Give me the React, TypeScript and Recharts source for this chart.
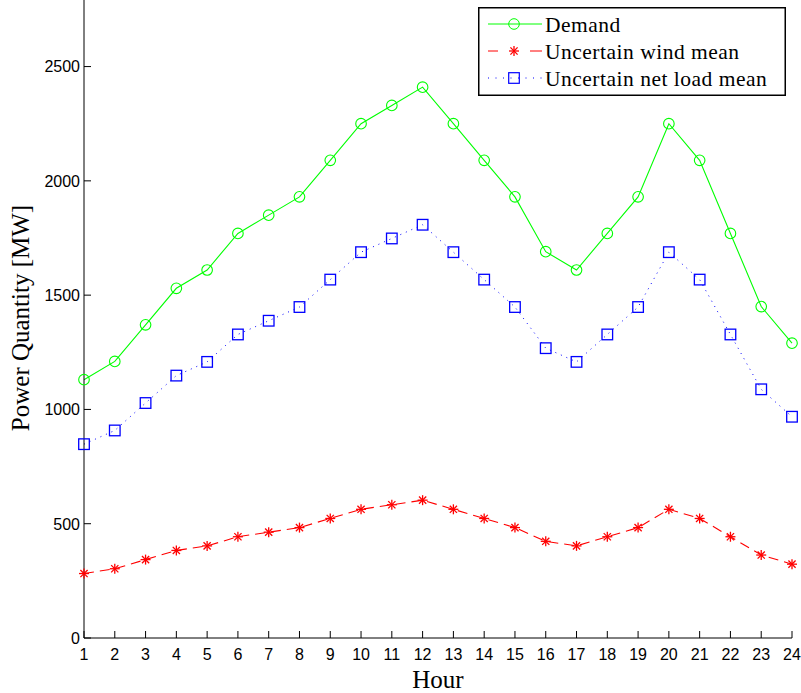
import React from "react";
import { LineChart, Line, XAxis, YAxis, Legend } from "recharts";

// hours 1..24 and the three series (MW)
const hours = [1, 2, 3, 4, 5, 6, 7, 8, 9, 10, 11, 12, 13, 14, 15, 16, 17, 18, 19, 20, 21, 22, 23, 24];
const demand = [1130, 1210, 1370, 1530, 1610, 1770, 1850, 1930, 2090, 2250, 2330, 2410, 2250, 2090, 1930, 1690, 1610, 1770, 1930, 2250, 2090, 1770, 1450, 1290];
const windMean = [282, 303, 343, 383, 403, 443, 463, 483, 523, 563, 583, 603, 563, 523, 483, 423, 403, 443, 483, 563, 523, 443, 363, 323];
const netLoadMean = [848, 908, 1028, 1148, 1208, 1328, 1388, 1448, 1568, 1688, 1748, 1808, 1688, 1568, 1448, 1268, 1208, 1328, 1448, 1688, 1568, 1328, 1088, 968];
const yTicks = [0, 500, 1000, 1500, 2000, 2500];

const GREEN = "#00ff00";
const RED = "#ff0000";
const BLUE = "#0000ff";
const TICK_FONT = "'Liberation Sans', Arial, sans-serif";
const SERIF = "'Liberation Serif', 'Times New Roman', serif";
const TICK_LEN = 7;

const data = hours.map((h, i) => ({
  hour: h,
  demand: demand[i],
  wind: windMean[i],
  net: netLoadMean[i],
}));

// ---- markers ----
const circleDot = (p: any) => (
  <circle key={`c${p.index}`} cx={p.cx} cy={p.cy} r={5.3} fill="none" stroke={GREEN} strokeWidth={1.1} />
);

const squareDot = (p: any) => (
  <rect key={`s${p.index}`} x={p.cx - 5.3} y={p.cy - 5.3} width={10.6} height={10.6} fill="none" stroke={BLUE} strokeWidth={1.3} />
);

function Star({ cx, cy, color }: { cx: number; cy: number; color: string }) {
  const r = 5;
  const d = 3.6;
  return (
    <g stroke={color} strokeWidth={1.3}>
      <line x1={cx - r} y1={cy} x2={cx + r} y2={cy} />
      <line x1={cx} y1={cy - r} x2={cx} y2={cy + r} />
      <line x1={cx - d} y1={cy - d} x2={cx + d} y2={cy + d} />
      <line x1={cx - d} y1={cy + d} x2={cx + d} y2={cy - d} />
    </g>
  );
}
const starDot = (p: any) => <Star key={`w${p.index}`} cx={p.cx} cy={p.cy} color={RED} />;

// ---- ticks (MATLAB style: inward ticks) ----
const YTickLeft = (p: any) => (
  <g>
    <line x1={p.x} y1={p.y} x2={p.x + TICK_LEN} y2={p.y} stroke="#000" />
    <text x={p.x - 4} y={p.y} dy={5.8} textAnchor="end" fontSize={16} fontFamily={TICK_FONT} fill="#000">
      {p.payload.value}
    </text>
  </g>
);
const YTickRight = (p: any) => (
  <line x1={p.x} y1={p.y} x2={p.x - TICK_LEN} y2={p.y} stroke="#000" />
);
const XTickBottom = (p: any) => (
  <g>
    <line x1={p.x} y1={p.y} x2={p.x} y2={p.y - TICK_LEN} stroke="#000" />
    <text x={p.x} y={p.y + 21.5} textAnchor="middle" fontSize={16} fontFamily={TICK_FONT} fill="#000">
      {p.payload.value}
    </text>
  </g>
);
const XTickTop = (p: any) => (
  <line x1={p.x} y1={p.y} x2={p.x} y2={p.y + TICK_LEN} stroke="#000" />
);

const XTitle = (p: any) => {
  const vb = p.viewBox;
  return (
    <text x={vb.x + vb.width / 2} y={vb.y + 50} textAnchor="middle" fontSize={25} fontFamily={SERIF} fill="#000">
      Hour
    </text>
  );
};
const YTitle = (p: any) => {
  const vb = p.viewBox;
  const cy = vb.y + vb.height / 2;
  return (
    <text x={29} y={cy} transform={`rotate(-90 29 ${cy})`} textAnchor="middle" fontSize={25} fontFamily={SERIF} fill="#000">
      Power Quantity [MW]
    </text>
  );
};

// ---- legend box ----
const legendItems = [
  { name: "Demand", color: GREEN, kind: "solid" },
  { name: "Uncertain wind mean", color: RED, kind: "dash" },
  { name: "Uncertain net load mean", color: BLUE, kind: "dot" },
];

function LegendBox() {
  const rowY = [17, 44, 71];
  return (
    <svg width={308} height={89} style={{ display: "block" }}>
      <rect x={0.75} y={0.75} width={306.5} height={87.5} fill="#fff" stroke="#000" strokeWidth={1.5} />
      {legendItems.map((it, i) => {
        const y = rowY[i];
        return (
          <g key={it.name}>
            {it.kind === "solid" && <line x1={10} y1={y} x2={64} y2={y} stroke={it.color} />}
            {it.kind === "dash" && (
              <g stroke={it.color}>
                <line x1={10} y1={y} x2={20} y2={y} />
                <line x1={52} y1={y} x2={64} y2={y} />
              </g>
            )}
            {it.kind === "dot" && <line x1={10} y1={y} x2={64} y2={y} stroke={it.color} strokeDasharray="1 6.5" />}
            {it.kind === "solid" && <circle cx={36} cy={y} r={5.3} fill="none" stroke={it.color} />}
            {it.kind === "dash" && <Star cx={36} cy={y} color={it.color} />}
            {it.kind === "dot" && <rect x={30.7} y={y - 5.3} width={10.6} height={10.6} fill="none" stroke={it.color} strokeWidth={1.2} />}
            <text x={67} y={y + 7.5} fontSize={21.5} letterSpacing={0.5} fontFamily={SERIF} fill="#000">
              {it.name}
            </text>
          </g>
        );
      })}
    </svg>
  );
}

export default function App() {
  return (
    <div style={{ position: "absolute", left: 0, top: -3, width: 801, height: 696, background: "#fff" }}>
      <LineChart width={801} height={696} data={data} margin={{ top: 1, right: 9, bottom: 0, left: 0 }}>
        <XAxis
          dataKey="hour"
          type="number"
          domain={[1, 24]}
          ticks={hours}
          interval={0}
          height={55}
          tickSize={0}
          tickMargin={0}
          tickLine={false}
          axisLine={{ stroke: "#000" }}
          tick={XTickBottom}
          label={{ content: XTitle }}
        />
        <XAxis
          xAxisId="top"
          orientation="top"
          dataKey="hour"
          type="number"
          domain={[1, 24]}
          ticks={hours}
          interval={0}
          height={0}
          tickSize={0}
          tickMargin={0}
          tickLine={false}
          axisLine={{ stroke: "#000" }}
          tick={XTickTop}
        />
        <YAxis
          type="number"
          domain={[0, 2800]}
          ticks={yTicks}
          interval={0}
          width={84}
          tickSize={0}
          tickMargin={0}
          tickLine={false}
          axisLine={{ stroke: "#000" }}
          tick={YTickLeft}
          label={{ content: YTitle }}
        />
        <YAxis
          yAxisId="right"
          orientation="right"
          type="number"
          domain={[0, 2800]}
          ticks={yTicks}
          interval={0}
          width={0}
          tickSize={0}
          tickMargin={0}
          tickLine={false}
          axisLine={{ stroke: "#000" }}
          tick={YTickRight}
        />
        <Line
          dataKey="demand"
          name="Demand"
          type="linear"
          stroke={GREEN}
          strokeWidth={1.1}
          dot={circleDot}
          activeDot={false}
          isAnimationActive={false}
        />
        <Line
          dataKey="wind"
          name="Uncertain wind mean"
          type="linear"
          stroke={RED}
          strokeWidth={1.1}
          strokeDasharray="10 6"
          dot={starDot}
          activeDot={false}
          isAnimationActive={false}
        />
        <Line
          dataKey="net"
          name="Uncertain net load mean"
          type="linear"
          stroke={BLUE}
          strokeWidth={1}
          strokeDasharray="1 5"
          dot={squareDot}
          activeDot={false}
          isAnimationActive={false}
        />
        <Legend
          layout="horizontal"
          verticalAlign="middle"
          align="center"
          content={() => <LegendBox />}
          wrapperStyle={{ left: 478, top: 10, width: 308, height: 89 }}
        />
      </LineChart>
    </div>
  );
}
